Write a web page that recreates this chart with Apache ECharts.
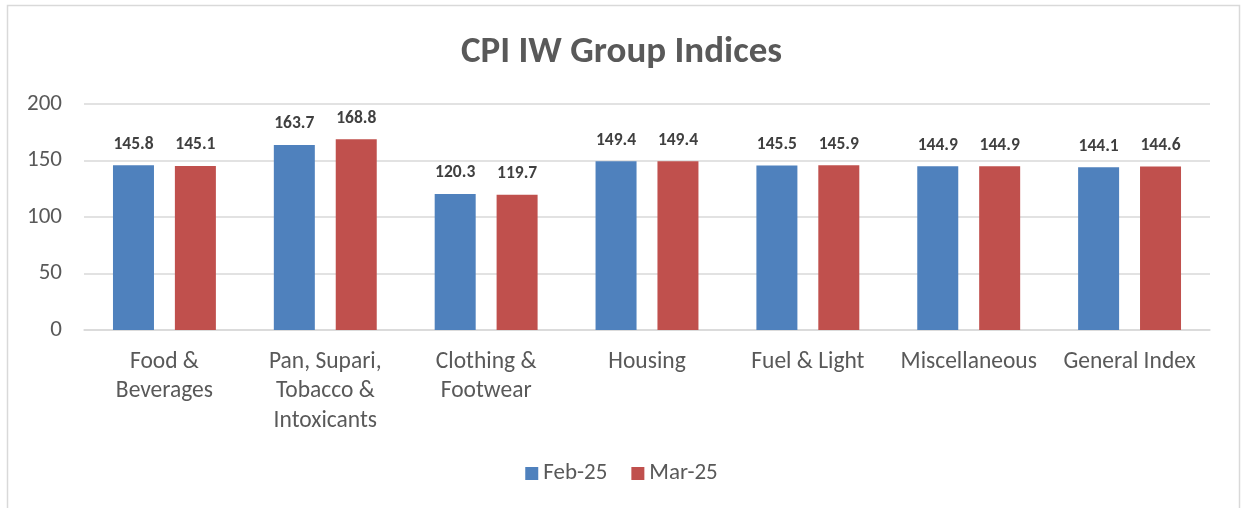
<!DOCTYPE html>
<html><head><meta charset="utf-8">
<script src="https://cdn.jsdelivr.net/npm/echarts@6/dist/echarts.min.js"></script>
<style>html,body{margin:0;padding:0;background:#fff}#c{width:1243px;height:508px}</style>
</head><body><div id="c"></div>
<script>
const categories = ['Food &\nBeverages', 'Pan, Supari,\nTobacco &\nIntoxicants', 'Clothing &\nFootwear', 'Housing', 'Fuel & Light', 'Miscellaneous', 'General Index'];
const seriesNames = ['Feb-25', 'Mar-25'];
const feb25 = [145.8, 163.7, 120.3, 149.4, 145.5, 144.9, 144.1];
const mar25 = [145.1, 168.8, 119.7, 149.4, 145.9, 144.9, 144.6];
const yTicks = [0, 50, 100, 150, 200];

const FONT = 'Carlito, Calibri, Lato, "Open Sans", sans-serif';
const chart = echarts.init(document.getElementById('c'), null, {renderer: 'canvas'});
const lbl = {show: true, position: 'top', distance: 12, fontFamily: FONT, fontSize: 17.5, fontWeight: 'bold', color: '#404040', formatter: p => p.value.toFixed(1)};
chart.setOption({
  animation: false,
  backgroundColor: '#fff',
  graphic: [{type: 'rect', shape: {x: 7.5, y: 5.5, width: 1232, height: 520}, style: {fill: 'none', stroke: '#d9d9d9', lineWidth: 1.5}, silent: true}],
  title: {text: 'CPI IW Group Indices', left: 'center', top: 29, textStyle: {fontFamily: FONT, fontSize: 37, fontWeight: 'bold', color: '#595959'}},
  legend: {data: seriesNames, bottom: 18, left: 'center', itemWidth: 13, itemHeight: 13, itemGap: 24, icon: 'rect', textStyle: {fontFamily: FONT, fontSize: 23, color: '#595959'}},
  grid: {left: 84, right: 33, top: 104, bottom: 178, containLabel: false},
  xAxis: {type: 'category', data: categories, axisLine: {lineStyle: {color: '#d9d9d9', width: 1.5}}, axisTick: {show: false},
    axisLabel: {interval: 0, margin: 17, fontFamily: FONT, fontSize: 23.5, color: '#595959', lineHeight: 29.5}},
  yAxis: {type: 'value', min: yTicks[0], max: yTicks[yTicks.length - 1], interval: 50, axisLine: {show: false}, axisTick: {show: false},
    splitLine: {lineStyle: {color: '#d9d9d9', width: 1.5}},
    axisLabel: {margin: 22, fontFamily: FONT, fontSize: 23, color: '#595959'}},
  series: [
    {name: seriesNames[0], type: 'bar', data: feb25, barWidth: 41, barGap: '51%', itemStyle: {color: '#4f81bd'}, label: lbl},
    {name: seriesNames[1], type: 'bar', data: mar25, barWidth: 41, itemStyle: {color: '#c0504d'}, label: lbl}
  ]
});
</script></body></html>
